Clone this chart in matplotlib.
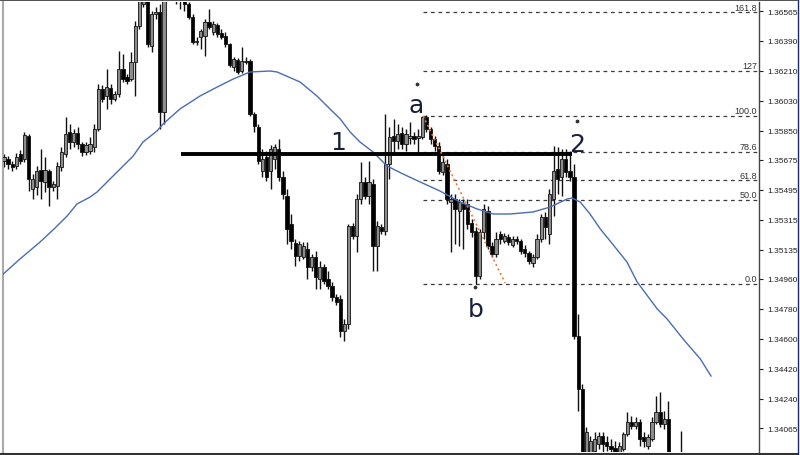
import numpy as np
import matplotlib
matplotlib.use('Agg')
import matplotlib.pyplot as plt
from matplotlib.lines import Line2D

# candle data, one entry per bar (left to right)
opens = [1.35668, 1.35680, 1.35650, 1.35638, 1.35710, 1.35680, 1.35818, 1.35500, 1.35512, 1.35614,
         1.35542, 1.35608, 1.35512, 1.35518, 1.35632, 1.35710, 1.35842, 1.35782, 1.35836, 1.35770,
         1.35722, 1.35728, 1.35752, 1.35860, 1.36100, 1.36058, 1.36106, 1.36040, 1.36070, 1.36220,
         1.36172, 1.36160, 1.36262, 1.36478, 1.36610, 1.36670, 1.36358, 1.36550, 1.36562, 1.35962,
         1.36670, 1.36820, 1.36730, 1.36670, 1.36628, 1.36610, 1.36532, 1.36382, 1.36412, 1.36418,
         1.36502, 1.36442, 1.36484, 1.36436, 1.36418, 1.36370, 1.36232, 1.36274, 1.36208, 1.36262,
         1.36268, 1.35950, 1.35872, 1.35608, 1.35692, 1.35608, 1.35680, 1.35740, 1.35572, 1.35458,
         1.35290, 1.35176, 1.35098, 1.35092, 1.35140, 1.35032, 1.35092, 1.34960, 1.35032, 1.34960,
         1.34918, 1.34852, 1.34840, 1.34648, 1.34690, 1.35278, 1.35218, 1.35440, 1.35542, 1.35458,
         1.35530, 1.35158, 1.35272, 1.35248, 1.35650, 1.35818, 1.35788, 1.35836, 1.35770, 1.35806,
         1.35818, 1.35806, 1.35812, 1.35932, 1.35860, 1.35800, 1.35758, 1.35602, 1.35650, 1.35422,
         1.35440, 1.35368, 1.35410, 1.35410, 1.35296, 1.35248, 1.34978, 1.35242, 1.35368, 1.35158,
         1.35110, 1.35230, 1.35188, 1.35212, 1.35164, 1.35200, 1.35188, 1.35140, 1.35116, 1.35056,
         1.35092, 1.35200, 1.35332, 1.35230, 1.35440, 1.35620, 1.35572, 1.35680, 1.35608, 1.35572,
         1.34618, 1.34300, 1.33880, 1.33910, 1.33928, 1.33970, 1.34018, 1.33982, 1.33958, 1.33946,
         1.33922, 1.33940, 1.34030, 1.34102, 1.34078, 1.34102, 1.34012, 1.33958, 1.34000, 1.34102,
         1.34162, 1.34090, 1.34120, 1.33880, 1.33820, 1.33868]
closes = [1.35692, 1.35650, 1.35632, 1.35692, 1.35668, 1.35824, 1.35560, 1.35560, 1.35608, 1.35548,
          1.35614, 1.35512, 1.35530, 1.35638, 1.35722, 1.35830, 1.35782, 1.35836, 1.35770, 1.35722,
          1.35764, 1.35770, 1.35860, 1.36100, 1.36040, 1.36112, 1.36040, 1.36070, 1.36220, 1.36160,
          1.36148, 1.36262, 1.36478, 1.36640, 1.36700, 1.36370, 1.36550, 1.36562, 1.35962, 1.36670,
          1.36820, 1.36730, 1.36670, 1.36628, 1.36610, 1.36532, 1.36382, 1.36388, 1.36448, 1.36502,
          1.36472, 1.36490, 1.36430, 1.36412, 1.36370, 1.36244, 1.36280, 1.36202, 1.36268, 1.36268,
          1.35950, 1.35878, 1.35668, 1.35680, 1.35572, 1.35740, 1.35752, 1.35572, 1.35470, 1.35260,
          1.35188, 1.35098, 1.35170, 1.35158, 1.35032, 1.35092, 1.34972, 1.35032, 1.34948, 1.34918,
          1.34852, 1.34822, 1.34648, 1.34690, 1.35278, 1.35218, 1.35440, 1.35542, 1.35458, 1.35542,
          1.35158, 1.35278, 1.35248, 1.35650, 1.35812, 1.35788, 1.35830, 1.35770, 1.35830, 1.35818,
          1.35800, 1.35818, 1.35932, 1.35860, 1.35800, 1.35758, 1.35608, 1.35662, 1.35440, 1.35440,
          1.35380, 1.35422, 1.35380, 1.35290, 1.35242, 1.34978, 1.35242, 1.35380, 1.35158, 1.35110,
          1.35200, 1.35200, 1.35218, 1.35182, 1.35200, 1.35188, 1.35128, 1.35116, 1.35068, 1.35092,
          1.35200, 1.35332, 1.35272, 1.35470, 1.35608, 1.35560, 1.35680, 1.35602, 1.35572, 1.34618,
          1.34300, 1.33820, 1.34042, 1.33988, 1.34000, 1.34018, 1.33970, 1.33958, 1.33940, 1.33910,
          1.33958, 1.34030, 1.34102, 1.34078, 1.34102, 1.34000, 1.33988, 1.34012, 1.34102, 1.34162,
          1.34090, 1.34120, 1.33880, 1.33820, 1.33868, 1.33820]
highs = [1.35710, 1.35698, 1.35668, 1.35716, 1.35734, 1.35842, 1.35830, 1.35590, 1.35638, 1.35740,
         1.35692, 1.35620, 1.35548, 1.35662, 1.35752, 1.35932, 1.35890, 1.35860, 1.35872, 1.35782,
         1.35782, 1.35812, 1.35890, 1.36130, 1.36124, 1.36220, 1.36130, 1.36088, 1.36328, 1.36310,
         1.36190, 1.36322, 1.36508, 1.36670, 1.36730, 1.36700, 1.36568, 1.36592, 1.36610, 1.36700,
         1.36880, 1.36910, 1.36820, 1.36760, 1.36700, 1.36622, 1.36550, 1.36412, 1.36460, 1.36520,
         1.36580, 1.36508, 1.36496, 1.36460, 1.36442, 1.36376, 1.36292, 1.36286, 1.36352, 1.36292,
         1.36280, 1.35962, 1.35890, 1.35740, 1.35728, 1.35764, 1.35770, 1.35800, 1.35608, 1.35500,
         1.35350, 1.35200, 1.35188, 1.35182, 1.35182, 1.35110, 1.35128, 1.35068, 1.35050, 1.35008,
         1.34942, 1.34870, 1.34864, 1.34720, 1.35290, 1.35296, 1.35470, 1.35662, 1.35572, 1.35668,
         1.35560, 1.35308, 1.35290, 1.35950, 1.35872, 1.35920, 1.35890, 1.35872, 1.35860, 1.35902,
         1.35842, 1.35860, 1.35938, 1.35944, 1.35872, 1.35818, 1.35782, 1.35710, 1.35680, 1.35470,
         1.35470, 1.35440, 1.35440, 1.35440, 1.35320, 1.35272, 1.35260, 1.35410, 1.35398, 1.35182,
         1.35242, 1.35248, 1.35236, 1.35230, 1.35218, 1.35218, 1.35200, 1.35164, 1.35128, 1.35110,
         1.35230, 1.35350, 1.35362, 1.35500, 1.35758, 1.35752, 1.35740, 1.35740, 1.35728, 1.35650,
         1.34750, 1.34330, 1.34072, 1.34018, 1.34042, 1.34042, 1.34042, 1.34018, 1.34000, 1.33988,
         1.33982, 1.34042, 1.34162, 1.34138, 1.34132, 1.34120, 1.34042, 1.34030, 1.34132, 1.34258,
         1.34282, 1.34168, 1.34228, 1.33904, 1.33892, 1.34048]
lows = [1.35632, 1.35620, 1.35608, 1.35620, 1.35650, 1.35662, 1.35488, 1.35440, 1.35464, 1.35440,
        1.35482, 1.35398, 1.35488, 1.35440, 1.35608, 1.35692, 1.35740, 1.35752, 1.35740, 1.35698,
        1.35704, 1.35710, 1.35722, 1.35848, 1.36022, 1.35980, 1.36010, 1.36028, 1.36052, 1.36142,
        1.36130, 1.36148, 1.36058, 1.36460, 1.36592, 1.36352, 1.36322, 1.36520, 1.35860, 1.35890,
        1.36700, 1.36688, 1.36610, 1.36580, 1.36568, 1.36520, 1.36370, 1.36364, 1.36340, 1.36298,
        1.36460, 1.36424, 1.36412, 1.36400, 1.36352, 1.36232, 1.36208, 1.36190, 1.36196, 1.36250,
        1.35938, 1.35842, 1.35650, 1.35572, 1.35548, 1.35500, 1.35620, 1.35548, 1.35440, 1.35170,
        1.35140, 1.35038, 1.35068, 1.35080, 1.34960, 1.35008, 1.34900, 1.34900, 1.34930, 1.34900,
        1.34828, 1.34804, 1.34612, 1.34588, 1.34660, 1.35200, 1.35122, 1.35410, 1.35440, 1.35410,
        1.35008, 1.35008, 1.35230, 1.35224, 1.35560, 1.35710, 1.35740, 1.35740, 1.35728, 1.35770,
        1.35770, 1.35722, 1.35800, 1.35842, 1.35770, 1.35728, 1.35590, 1.35584, 1.35410, 1.35122,
        1.35170, 1.35158, 1.35140, 1.35260, 1.35212, 1.34930, 1.34960, 1.35200, 1.35140, 1.35092,
        1.35092, 1.35170, 1.35176, 1.35164, 1.35152, 1.35170, 1.35110, 1.35092, 1.35050, 1.35032,
        1.35080, 1.35182, 1.35200, 1.35170, 1.35338, 1.35470, 1.35458, 1.35572, 1.35548, 1.34600,
        1.34168, 1.33760, 1.33820, 1.33880, 1.33892, 1.33940, 1.33922, 1.33928, 1.33910, 1.33880,
        1.33892, 1.33928, 1.34018, 1.34060, 1.34060, 1.33958, 1.33952, 1.33940, 1.33988, 1.34090,
        1.34072, 1.34060, 1.33850, 1.33790, 1.33790, 1.33790]

# moving average (bar index, price)
ma_idx = [-1.0, 3.9, 8.8, 12.2, 15.4, 17.8, 21.0, 22.7, 26.6, 31.5, 33.9, 37.3, 38.8, 42.9,
          47.8, 52.0, 55.9, 60.0, 64.9, 66.6, 72.2, 76.3, 79.5, 82.0, 84.4, 86.8, 90.0, 93.4,
          97.3, 101.5, 106.3, 111.2, 115.4, 119.3, 123.4, 129.0, 133.2, 137.3, 138.5, 140.5,
          142.9, 145.4, 147.8, 151.9, 154.4, 159.3, 161.7, 165.6, 169.8, 172.4]
ma_vals = [1.34972, 1.35080, 1.35182, 1.35260, 1.35338, 1.35410, 1.35452, 1.35482, 1.35578,
           1.35698, 1.35782, 1.35848, 1.35890, 1.35980, 1.36058, 1.36112, 1.36160, 1.36202,
           1.36208, 1.36202, 1.36142, 1.36058, 1.35980, 1.35920, 1.35842, 1.35782, 1.35722,
           1.35638, 1.35590, 1.35542, 1.35488, 1.35422, 1.35380, 1.35350, 1.35350, 1.35362,
           1.35392, 1.35440, 1.35446, 1.35422, 1.35350, 1.35260, 1.35188, 1.35062, 1.34942,
           1.34780, 1.34720, 1.34600, 1.34480, 1.34378]

# fibonacci retracement b -> a
fib_low = 1.34930
fib_high = 1.35938
fib_start = 102.2
fib_levels = [0.0, 50.0, 61.8, 78.6, 100.0, 127.0, 161.8]
fib_labels = ['0.0', '50.0', '61.8', '78.6', '100.0', '127', '161.8']

# neckline 1-2 and a-b trend line
neck_price = 1.35710
neck_from, neck_to = 43.2, 138.5
trend_idx = [102.2, 122.2]
trend_vals = [1.35938, 1.34936]

# wave labels and fractal dots
wave_text = ['1', 'a', 'b', '2']
wave_idx = [81.5, 100.6, 115.1, 139.8]
wave_vals = [1.35740, 1.35962, 1.34738, 1.35728]
dot_idx = [100.7, 139.8, 114.9]
dot_vals = [1.36130, 1.35908, 1.34912]

price_ticks = [1.36565, 1.36390, 1.36210, 1.36030, 1.35850, 1.35675, 1.35495, 1.35315,
               1.35135, 1.34960, 1.34780, 1.34600, 1.34420, 1.34240, 1.34065]

fig = plt.figure(figsize=(8, 4.56), dpi=100)
fig.patch.set_facecolor('white')
ax = fig.add_axes([3 / 800, 3 / 456, 756 / 800, 450 / 456])
ax.set_facecolor('white')

o = np.array(opens)
c = np.array(closes)
h = np.array(highs)
l = np.array(lows)
idx = np.arange(len(o))
bull = c >= o

# fib levels (behind candles)
rng = fib_high - fib_low
x_right = 184.0
for lev, lab in zip(fib_levels, fib_labels):
    p = fib_low + rng * lev / 100.0
    ax.plot([fib_start, x_right], [p, p], color='#3c3c3c', lw=0.9,
            ls=(0, (3, 3)), zorder=1)
    ax.text(183.6, p + 0.00003, lab, ha='right', va='bottom', fontsize=6.5,
            family='Liberation Sans', color='#333333', zorder=6)

# candles
ax.vlines(idx, l, h, color='#111111', lw=1.0, zorder=2)
bottoms = np.minimum(o, c)
heights = np.maximum(np.abs(c - o), 0.00002)
ax.bar(idx, heights, bottom=bottoms, width=0.8,
       color=np.where(bull, '#8c8c8c', '#000000'), edgecolor='#111111',
       linewidth=0.6, zorder=3)

# moving average
ax.plot(ma_idx, ma_vals, color='#4a6cb3', lw=1.0, zorder=4)

# neckline and trend line
ax.plot([neck_from, neck_to], [neck_price, neck_price], color='black', lw=2.8,
        zorder=5, solid_capstyle='butt')
ax.plot(trend_idx, trend_vals, color='#f07a3c', lw=1.2, ls=(0, (1.2, 1.8)),
        zorder=5)

for t, xi, yi in zip(wave_text, wave_idx, wave_vals):
    ax.text(xi, yi, t, ha='center', va='baseline', fontsize=18,
            color='#17203a', zorder=7)
ax.scatter(dot_idx, dot_vals, s=3, color='#333333', zorder=7)

ax.set_xlim(-0.24, 184.1)
ax.set_ylim(1.33922, 1.36622)
ax.set_xticks([])
ax.yaxis.tick_right()
ax.set_yticks(price_ticks)
ax.set_yticklabels(['{:.5f}'.format(v) for v in price_ticks],
                   family='Liberation Sans')
ax.tick_params(axis='y', direction='out', length=3, width=0.8, pad=3,
               labelsize=6, colors='#222222')

for side in ['top', 'bottom']:
    ax.spines[side].set_visible(False)
ax.spines['left'].set_color('#aaaaaa')
ax.spines['left'].set_linewidth(1.5)
ax.spines['right'].set_color('#444444')
ax.spines['right'].set_linewidth(1.0)

# window frame
fig.add_artist(Line2D([0, 797 / 800], [455.5 / 456, 455.5 / 456], color='#333333', lw=1.2))
fig.add_artist(Line2D([0, 797 / 800], [1.5 / 456, 1.5 / 456], color='#333333', lw=1.5))
fig.add_artist(Line2D([797.5 / 800, 797.5 / 800], [0, 1], color='#1f2a5c', lw=1.0))

fig.savefig('out.png', dpi=100)
